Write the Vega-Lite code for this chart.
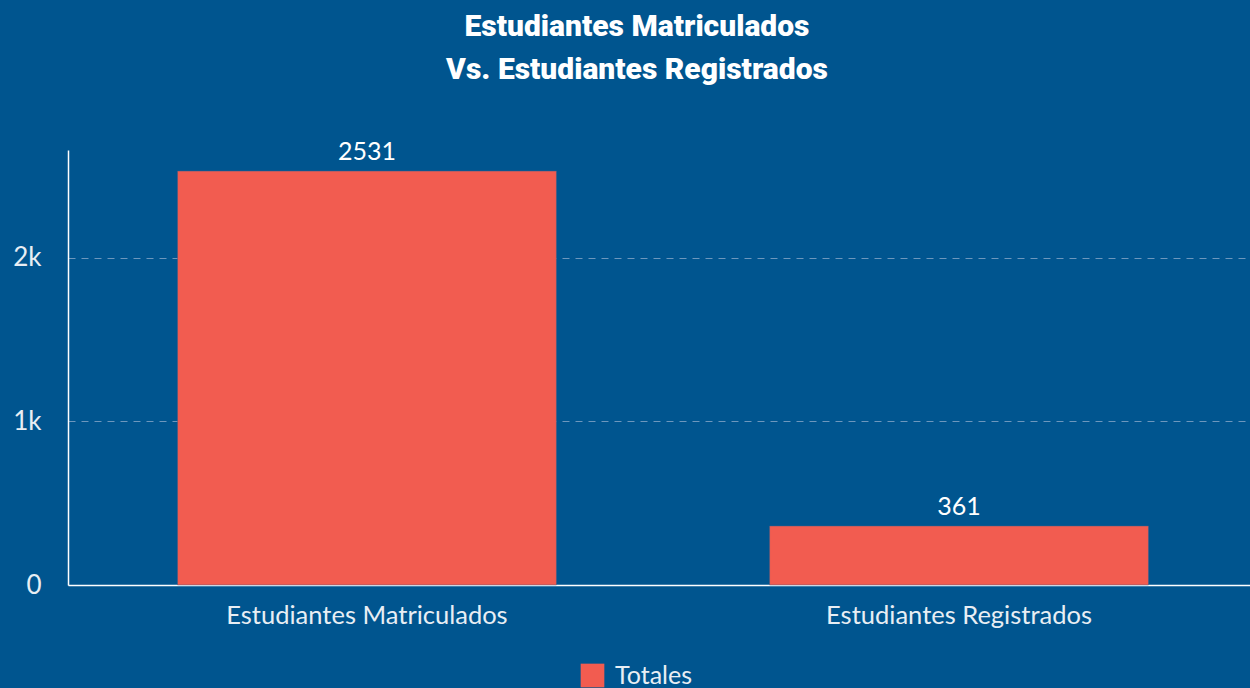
{
  "$schema": "https://vega.github.io/schema/vega-lite/v6.json",
  "autosize": "none",
  "width": 1190,
  "height": 435,
  "padding": {"left": 68, "top": 150, "right": 0, "bottom": 103},
  "background": "#00558F",
  "title": {
    "text": ["Estudiantes Matriculados", "Vs. Estudiantes Registrados"],
    "font": "Roboto",
    "fontSize": 30,
    "fontWeight": 900,
    "color": "#ffffff",
    "lineHeight": 43,
    "anchor": "middle",
    "dx": -26,
    "offset": 55
  },
  "data": {
    "values": [
      {"categoria": "Estudiantes Matriculados", "total": 2531, "serie": "Totales"},
      {"categoria": "Estudiantes Registrados", "total": 361, "serie": "Totales"}
    ]
  },
  "config": {
    "view": {"stroke": null},
    "font": "Lato"
  },
  "encoding": {
    "x": {
      "field": "categoria",
      "type": "nominal",
      "sort": null,
      "scale": {"paddingInner": 0.36, "paddingOuter": 0.185},
      "axis": {
        "title": null,
        "labelAngle": 0,
        "labelFont": "Lato",
        "labelFontSize": 25.5,
        "labelLimit": 0,
        "labelColor": "#e8eef4",
        "labelPadding": 18,
        "ticks": false,
        "domainColor": "#ffffff",
        "domainWidth": 1.5,
        "grid": false
      }
    },
    "y": {
      "field": "total",
      "type": "quantitative",
      "scale": {"domain": [0, 2660], "nice": false},
      "axis": {
        "title": null,
        "values": [0, 1000, 2000],
        "labelExpr": "datum.value == 0 ? '0' : (datum.value / 1000) + 'k'",
        "labelFont": "Lato",
        "labelFontSize": 26,
        "labelColor": "#e8eef4",
        "labelPadding": 27,
        "ticks": false,
        "domainColor": "#ffffff",
        "domainWidth": 1.5,
        "grid": true,
        "gridColor": "#6d97bd",
        "gridDash": [7, 6],
        "gridWidth": 1
      }
    }
  },
  "layer": [
    {
      "mark": {"type": "bar", "stroke": "#3c5f8a", "strokeWidth": 0.5},
      "encoding": {
        "color": {
          "field": "serie",
          "type": "nominal",
          "scale": {"range": ["#F25C50"]},
          "legend": {
            "title": null,
            "orient": "none",
            "legendX": 512,
            "legendY": 513,
            "symbolType": "square",
            "symbolSize": 560,
            "symbolStrokeWidth": 0,
            "labelOffset": 10,
            "labelFont": "Lato",
            "labelFontSize": 25,
            "labelColor": "#e8eef4"
          }
        }
      }
    },
    {
      "mark": {"type": "text", "baseline": "bottom", "dy": -6, "font": "Lato", "fontSize": 25, "color": "#ffffff"},
      "encoding": {
        "text": {"field": "total", "type": "quantitative"}
      }
    }
  ]
}
